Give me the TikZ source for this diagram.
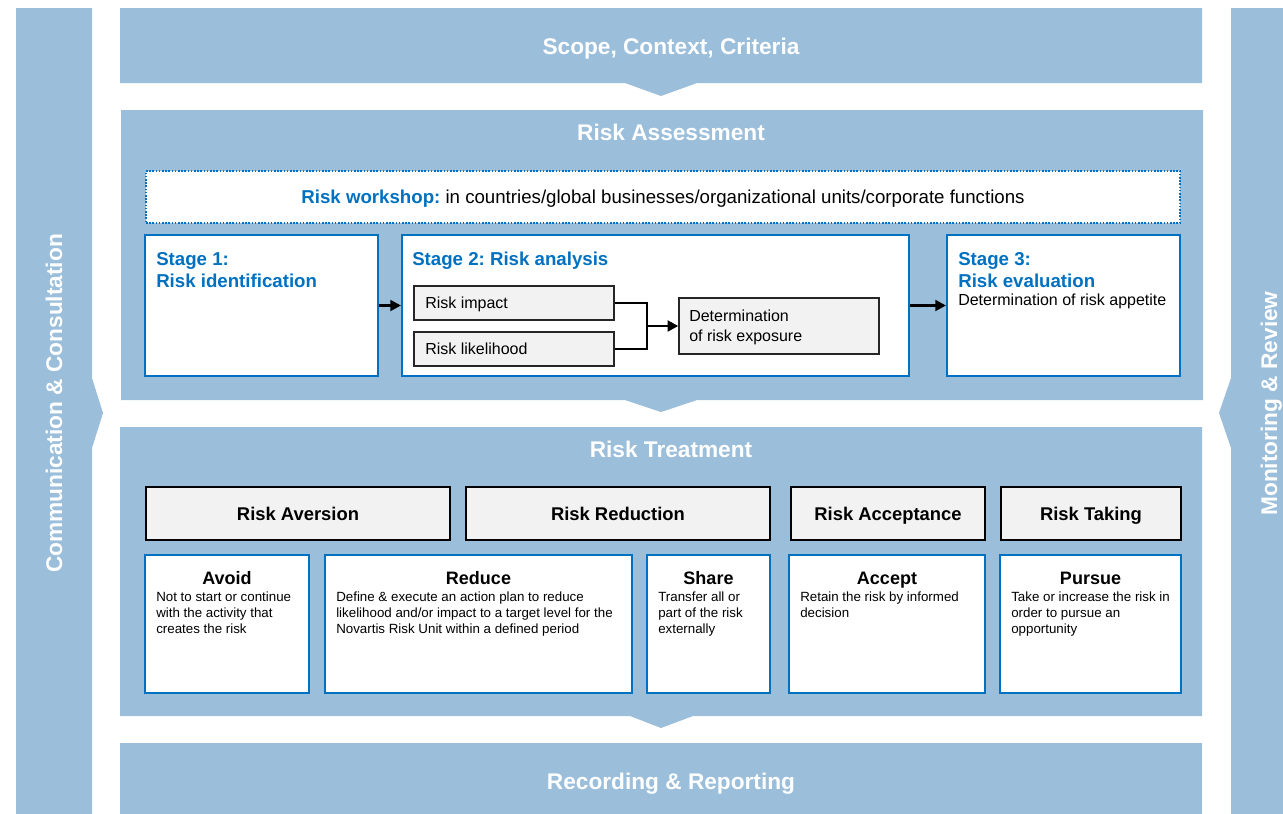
\documentclass[tikz,border=0pt]{standalone}
\usepackage{fontspec}
\setmainfont{Liberation Sans}
\usetikzlibrary{arrows.meta,fit}
\definecolor{panel}{RGB}{155,190,219}
\definecolor{nblue}{RGB}{0,112,192}
\definecolor{gfill}{RGB}{242,242,242}
\frenchspacing
\begin{document}
\begin{tikzpicture}[x=0.75pt,y=-0.75pt,
  panelfill/.style={fill=panel,draw=none},
  title/.style={font=\fontsize{17}{20}\selectfont\bfseries,text=white,inner sep=0},
  stagebox/.style={draw=nblue,line width=1.5pt,fill=white,inner sep=0},
  wsbox/.style={draw=nblue,line width=1.2pt,dash pattern=on 1.2pt off 1.2pt,fill=white,inner sep=0},
  graybox/.style={draw=black!85,line width=1pt,fill=gfill,inner sep=0},
  headbox/.style={draw=black,line width=1.5pt,fill=gfill,inner sep=0},
  shead/.style={font=\fontsize{14}{16.5}\selectfont\bfseries,text=nblue,align=left,inner sep=0},
  body/.style={font=\fontsize{12}{15}\selectfont,align=left,inner sep=0},
  tbody/.style={font=\fontsize{10}{12}\selectfont,align=left,inner sep=0},
  ttitle/.style={font=\fontsize{13.5}{16}\selectfont\bfseries,inner sep=0},
  htext/.style={font=\fontsize{13.8}{16}\selectfont\bfseries,inner sep=0,anchor=base},
  flow/.style={line width=2pt,-{Triangle[length=8pt,width=8pt]}},
  joint/.style={line width=2pt}]
\useasboundingbox (0,0) rectangle (1283,814);
\clip (0,0) rectangle (1283,814);

% side bars
\fill[panelfill] (16,8) -- (92,8) -- (92,378) -- (103,413) -- (92,448) -- (92,830) -- (16,830) -- cycle;
\fill[panelfill] (1231,8) -- (1310,8) -- (1310,830) -- (1231,830) -- (1231,448) -- (1219,413) -- (1231,378) -- cycle;
\node[title,rotate=90,anchor=base] (comm) at (62,403.5) {Communication \& Consultation};
\node[title,rotate=90,anchor=base] (mon) at (1277,403.5) {Monitoring \& Review};

% main panels
\fill[panelfill] (120,8) -- (1202,8) -- (1202,83) -- (697,83) -- (661,96) -- (625,83) -- (120,83) -- cycle;
\fill[panelfill] (121,110) -- (1203,110) -- (1203,400) -- (697,400) -- (661,412) -- (625,400) -- (121,400) -- cycle;
\fill[panelfill] (120,427) -- (1202,427) -- (1202,716) -- (693,716) -- (661,728) -- (630,716) -- (120,716) -- cycle;
\fill[panelfill] (120,743) rectangle (1202,830);

\node[title,anchor=base] (scope) at (671,54) {Scope, Context, Criteria};
\node[title,anchor=base] (assess) at (671,140) {Risk Assessment};
\node[title,anchor=base] (treat) at (671,457) {Risk Treatment};
\node[title,anchor=base] (record) at (671,789) {Recording \& Reporting};

% workshop
\node[wsbox,fit={(146,171) (1180,223)}] (ws) {};
\node[font=\fontsize{14}{16}\selectfont,inner sep=0,anchor=base] (wst) at (663,203.5) {\textcolor{nblue}{\bfseries Risk workshop:} in countries/global businesses/organizational units/corporate functions};

% stages
\node[stagebox,fit={(145,235) (378,376)}] (s1) {};
\node[stagebox,fit={(402,235) (909,376)}] (s2) {};
\node[stagebox,fit={(947,235) (1180,376)}] (s3) {};
\node[shead,anchor=base west] (s1t) at (156,287) {Stage 1:\\Risk identification};
\node[shead,anchor=base west] (s2t) at (412,265) {Stage 2: Risk analysis};
\node[shead,anchor=base west] (s3t) at (958,287) {Stage 3:\\Risk evaluation};
\node[body,anchor=base west] (s3b) at (958,305.5) {Determination of risk appetite};

\node[graybox,fit={(414,286) (614,320)}] (ri) {};
\node[graybox,fit={(414,332) (614,366)}] (rl) {};
\node[graybox,fit={(679,298) (879,354)}] (de) {};
\node[body,anchor=base west] (rit) at (425,308.5) {Risk impact};
\node[body,anchor=base west] (rlt) at (425,354.5) {Risk likelihood};
\node[body,anchor=base west] (det) at (689,341.5) {Determination\\of risk exposure};

\coordinate (jn) at (647,326);
\draw[joint] (ri.east) -| (jn);
\draw[joint] (rl.east) -| (jn);
\draw[flow] (jn) -- (de.west);
\draw[flow] (s1) -- (s2);
\draw[flow] (s2) -- (s3);

% treatment headers
\node[headbox,fit={(146,487) (450,540)}] (h1) {};
\node[headbox,fit={(466,487) (770,540)}] (h2) {};
\node[headbox,fit={(791,487) (985,540)}] (h3) {};
\node[headbox,fit={(1001,487) (1181,540)}] (h4) {};
\node[htext] (h1t) at (h1.center |- 0,520.5) {Risk Aversion};
\node[htext] (h2t) at (h2.center |- 0,520.5) {Risk Reduction};
\node[htext] (h3t) at (h3.center |- 0,520.5) {Risk Acceptance};
\node[htext] (h4t) at (h4.center |- 0,520.5) {Risk Taking};

% treatment boxes
\node[stagebox,fit={(145,555) (309,693)}] (t1) {};
\node[stagebox,fit={(325,555) (632,693)}] (t2) {};
\node[stagebox,fit={(647,555) (770,693)}] (t3) {};
\node[stagebox,fit={(789,555) (985,693)}] (t4) {};
\node[stagebox,fit={(1000,555) (1181,693)}] (t5) {};

\node[ttitle,anchor=base] (t1h) at (227,584.5) {Avoid};
\node[ttitle,anchor=base] (t2h) at (478.5,584.5) {Reduce};
\node[ttitle,anchor=base] (t3h) at (708.5,584.5) {Share};
\node[ttitle,anchor=base] (t4h) at (887,584.5) {Accept};
\node[ttitle,anchor=base] (t5h) at (1090.5,584.5) {Pursue};

\node[tbody,anchor=base west] (t1b) at (156,633) {Not to start or continue\\with the activity that\\creates the risk};
\node[tbody,anchor=base west] (t2b) at (336,633) {Define \& execute an action plan to reduce\\likelihood and/or impact to a target level for the\\Novartis Risk Unit within a defined period};
\node[tbody,anchor=base west] (t3b) at (658,633) {Transfer all or\\part of the risk\\externally};
\node[tbody,anchor=base west] (t4b) at (800,617) {Retain the risk by informed\\decision};
\node[tbody,anchor=base west] (t5b) at (1011,633) {Take or increase the risk in\\order to pursue an\\opportunity};
\end{tikzpicture}
\end{document}
